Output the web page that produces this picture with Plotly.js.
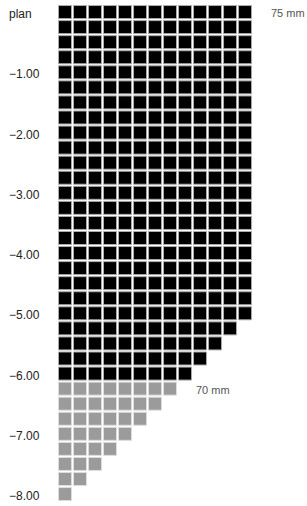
<!DOCTYPE html>
<html>
<head>
<meta charset="utf-8">
<script src="https://cdn.plot.ly/plotly-3.0.1.min.js"></script>
<style>html,body{margin:0;padding:0;background:#fff;}#chart{width:307px;height:506px;}</style>
</head>
<body>
<div id="chart"></div>
<script>
// Depth of each row (m), number of squares in the row, and group (0 = black, 1 = grey)
var rowDepths = [0, -0.25, -0.5, -0.75, -1, -1.25, -1.5, -1.75, -2, -2.25, -2.5, -2.75,
  -3, -3.25, -3.5, -3.75, -4, -4.25, -4.5, -4.75, -5, -5.25, -5.5, -5.75, -6,
  -6.25, -6.5, -6.75, -7, -7.25, -7.5, -7.75, -8];
var rowCounts = [13, 13, 13, 13, 13, 13, 13, 13, 13, 13, 13, 13,
  13, 13, 13, 13, 13, 13, 13, 13, 13, 12, 11, 10, 9,
  8, 7, 6, 5, 4, 3, 2, 1];
var rowGroup = [0,0,0,0,0,0,0,0,0,0,0,0,0,0,0,0,0,0,0,0,0,0,0,0,0,
  1,1,1,1,1,1,1,1];
var tickValues = [0, -1, -2, -3, -4, -5, -6, -7, -8];
var tickLabels = ["plan", "\u22121.00", "\u22122.00", "\u22123.00", "\u22124.00", "\u22125.00", "\u22126.00", "\u22127.00", "\u22128.00"];
var noteDepths = [0, -6.25];
var noteCounts = [13, 8];
var noteTexts = ["75 mm", "70 mm"];

var bx = [], by = [], gx = [], gy = [];
for (var r = 0; r < rowDepths.length; r++) {
  for (var c = 0; c < rowCounts[r]; c++) {
    if (rowGroup[r] === 0) { bx.push(c); by.push(rowDepths[r]); }
    else { gx.push(c); gy.push(rowDepths[r]); }
  }
}

var traces = [
  {type: 'scatter', mode: 'markers', x: bx, y: by, hoverinfo: 'skip',
   marker: {symbol: 'square', size: 13, color: '#000', line: {color: '#aaaaaa', width: 1}}},
  {type: 'scatter', mode: 'markers', x: gx, y: gy, hoverinfo: 'skip',
   marker: {symbol: 'square', size: 13, color: '#9b9b9b', line: {color: '#dddddd', width: 1}}}
];

var annotations = [];
for (var i = 0; i < tickValues.length; i++) {
  annotations.push({x: -0.167, y: tickValues[i], xref: 'paper', yref: 'y', text: tickLabels[i],
    showarrow: false, xanchor: 'left', yanchor: 'middle', yshift: -2,
    font: {family: 'Liberation Sans, Arial, sans-serif', size: 12, color: '#222'}});
}
for (var j = 0; j < noteTexts.length; j++) {
  annotations.push({x: noteCounts[j] + 0.6, y: noteDepths[j], xref: 'x', yref: 'y', text: noteTexts[j],
    showarrow: false, xanchor: 'left', yanchor: 'middle', yshift: -1,
    font: {family: 'Liberation Sans, Arial, sans-serif', size: 11, color: '#555'}});
}

var layout = {
  width: 307, height: 506,
  margin: {l: 50, r: 0, t: 0, b: 0, pad: 0},
  paper_bgcolor: '#fff', plot_bgcolor: '#fff',
  showlegend: false,
  xaxis: {range: [-1, 16.13], showgrid: false, zeroline: false, showticklabels: false, showline: false, fixedrange: true},
  yaxis: {range: [-8.198, 0.2], showgrid: false, zeroline: false, showticklabels: false, showline: false, fixedrange: true},
  annotations: annotations
};

Plotly.newPlot('chart', traces, layout, {displayModeBar: false, staticPlot: true});
</script>
</body>
</html>
